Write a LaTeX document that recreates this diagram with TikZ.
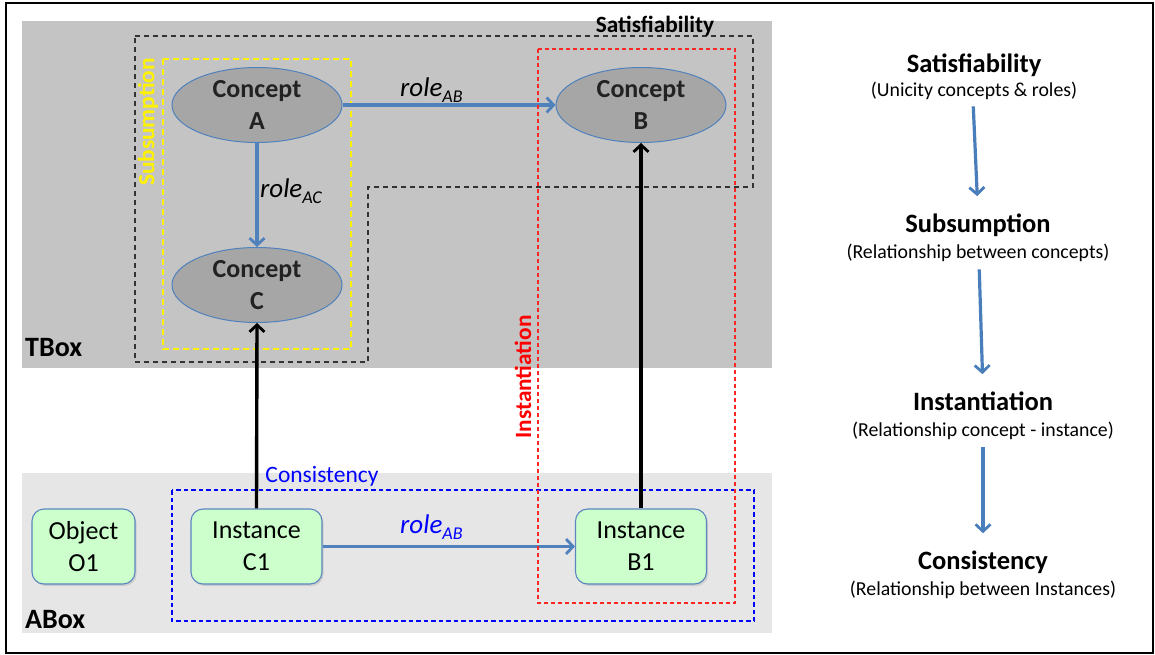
\documentclass[tikz,border=0pt]{standalone}
\usepackage{fontspec}
\setmainfont{Carlito}
\usetikzlibrary{shapes.geometric,arrows.meta,shadows}

\definecolor{tboxbg}{HTML}{C4C4C4}
\definecolor{aboxbg}{HTML}{E6E6E6}
\definecolor{conceptfill}{HTML}{A6A6A6}
\definecolor{conceptline}{HTML}{4F81BD}
\definecolor{conceptText}{HTML}{222222}
\definecolor{rolearrow}{HTML}{4F81BD}
\definecolor{instfill}{HTML}{CCFFCC}
\definecolor{instline}{HTML}{5B86BF}
\definecolor{flowblue}{HTML}{4A7EBB}

\begin{document}
\begin{tikzpicture}[x=1pt,y=-1pt,
  % a zero-width strut on the first line lowers the two-line labels slightly
  concept/.style={ellipse, draw=conceptline, line width=1pt, fill=conceptfill,
    minimum width=170pt, minimum height=75pt, inner sep=0pt, align=center,
    execute at begin node={\rule{0pt}{24pt}},
    font=\fontsize{26}{32}\selectfont\bfseries, text=conceptText},
  inst/.style={rectangle, rounded corners=12pt, draw=instline, line width=1.1pt,
    fill=instfill, minimum width=131pt, minimum height=75pt, inner sep=0pt,
    align=center, font=\fontsize{26}{32}\selectfont,
    execute at begin node={\rule{0pt}{24pt}},
    drop shadow={opacity=0.25, shadow xshift=1.5pt, shadow yshift=-2pt}},
  rolearr/.style={draw=rolearrow, line width=3.4pt,
    -{Straight Barb[length=7pt,width=15pt,line width=2.8pt]}},
  instarr/.style={draw=black, line width=3.4pt,
    -{Straight Barb[length=7pt,width=15pt,line width=2.8pt]}},
  flowarr/.style={draw=flowblue, line width=3.2pt,
    -{Straight Barb[length=7pt,width=15pt,line width=2.8pt]}},
  rolelabel/.style={anchor=base west, inner sep=0pt, font=\fontsize{27}{27}\selectfont\itshape},
  boxlabel/.style={anchor=base west, inner sep=0pt, font=\fontsize{28}{28}\selectfont\bfseries},
  zonelabel/.style={inner sep=0pt, font=\fontsize{23.3}{23.3}\selectfont\bfseries},
  heading/.style={anchor=base, inner sep=0pt, font=\fontsize{26.5}{26.5}\selectfont\bfseries},
  subheading/.style={anchor=base, inner sep=0pt, font=\fontsize{19.8}{19.8}\selectfont},
]
\newcommand{\rolesub}[1]{\raisebox{-6pt}{\fontsize{18}{18}\selectfont #1}}

% canvas and frame
\useasboundingbox (0,0) rectangle (1155,655);
\fill[white] (0,0) rectangle (1155,655);
\draw[line width=2pt] (6,3) rectangle (1153,653);

% TBox and ABox panels
\fill[tboxbg] (22,21) rectangle (772,368);
\fill[aboxbg] (22,473) rectangle (772,633);
\node[boxlabel] (tbox) at (25,356) {TBox};
\node[boxlabel] (abox) at (25,628) {ABox};

% reasoning scopes
\draw[black!80, line width=1.5pt, dash pattern=on 5pt off 4pt]
  (135,36) -- (753,36) -- (753,187) -- (368,187) -- (368,362) -- (135,362) -- cycle;
\draw[yellow, line width=2pt, dash pattern=on 6pt off 4pt] (163,59) rectangle (351,349);
\draw[blue, line width=1.4pt, dash pattern=on 4.5pt off 3pt] (172,490) rectangle (754,621);

\node[zonelabel, anchor=base] (satlabel) at (655,33) {Satisfiability};
\node[zonelabel, text=yellow, rotate=90] (sublabel) at (148,122) {Subsumption};
\node[zonelabel, text=red, rotate=90] (instlabel) at (523,377) {Instantiation};
\node[inner sep=0pt, anchor=base, text=blue, font=\fontsize{23.5}{23.5}\selectfont] (conslabel) at (322,482) {Consistency};

% concepts
\node[concept] (A) at (257,105) {Concept\\A};
\node[concept] (B) at (641,105) {Concept\\B};
\node[concept] (C) at (257,285) {Concept\\C};

% individuals
\node[inst, minimum width=103pt] (O1) at (83.5,546.5) {Object\\O1};
\node[inst] (C1) at (256.5,546.5) {Instance\\C1};
\node[inst] (B1) at (641,546.5) {Instance\\B1};

% roles
\draw[rolearr] (A.east) -- (B.west);
\draw[rolearr] (A.south) -- (C.north);
\draw[rolearr] (C1.east) -- (B1.west);
\node[rolelabel] (rab) at (400,97) {role\rolesub{AB}};
\node[rolelabel] (rac) at (260,197) {role\rolesub{AC}};
\node[rolelabel, text=blue] (rab1) at (400,533) {role\rolesub{AB}};

% instance-of links
\draw[instarr] (C1.north) -- (C.south);
\draw[instarr] (B1.north) -- (B.south);

% instantiation scope, drawn over the links it crosses
\draw[red!85, line width=1.3pt, dash pattern=on 4pt off 3pt] (538,49) rectangle (735,603);

% reasoning sequence
\node[heading] (sat) at (974,73) {Satisfiability};
\node[subheading] (satsub) at (974,97) {(Unicity concepts \& roles)};
\node[heading] (subs) at (978,232) {Subsumption};
\node[subheading] (subssub) at (978,258) {(Relationship between concepts)};
\node[heading] (inst) at (983,410) {Instantiation};
\node[subheading] (instsub) at (983,436) {(Relationship concept - instance)};
\node[heading] (cons) at (983,569) {Consistency};
\node[subheading] (conssub) at (983,595) {(Relationship between Instances)};

\draw[flowarr, shorten <=6pt, shorten >=17pt] ([xshift=-1pt]satsub.south) -- (subs.north);
\draw[flowarr, shorten <=8pt, shorten >=17pt] ([xshift=1pt]subssub.south) -- (inst.north);
\draw[flowarr, shorten <=8pt, shorten >=17pt] (instsub.south) -- (cons.north);
\end{tikzpicture}
\end{document}
